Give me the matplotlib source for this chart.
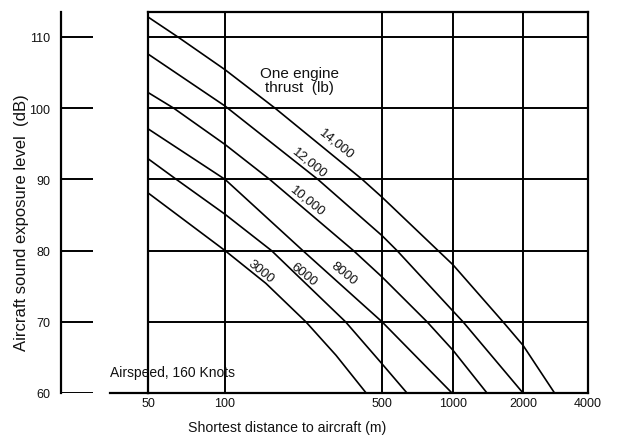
import numpy as np
import matplotlib
matplotlib.use("Agg")
import matplotlib.pyplot as plt
from matplotlib.ticker import FixedLocator, FixedFormatter, NullFormatter
from matplotlib.lines import Line2D

plt.rcParams['font.family'] = ['Liberation Sans', 'DejaVu Sans']

# ---------------- data ----------------
dist_3000 = [50, 100, 152, 229, 312, 425]
sel_3000 = [88.1, 80, 75.4, 70, 65.3, 60]

dist_6000 = [50, 64.5, 100, 161, 344, 500, 638]
sel_6000 = [92.9, 90, 85.1, 80, 70, 64.1, 60]

dist_8000 = [50, 100, 222, 500, 990]
sel_8000 = [97.1, 90, 80, 70, 60]

dist_10000 = [50, 63, 100, 158, 373, 500, 776, 1000, 1400]
sel_10000 = [102.2, 100, 94.9, 90, 80, 76.3, 70, 66, 60]

dist_12000 = [50, 100, 259, 500, 579, 1000, 1104, 2000]
sel_12000 = [107.6, 100.3, 90, 82.1, 80, 71.5, 70, 60]

dist_14000 = [50, 65.4, 100, 167, 408, 500, 864, 1000, 1640, 2000, 2800]
sel_14000 = [112.8, 110, 105.4, 100, 90, 87.5, 80, 78, 70, 66.7, 60]

thrust_labels = ['3000', '6000', '8000', '10,000', '12,000', '14,000']

x_ticks = [50, 100, 500, 1000, 2000, 4000]
x_tick_labels = ['50', '100', '500', '1000', '2000', '4000']
y_ticks = [60, 70, 80, 90, 100, 110]
y_tick_labels = ['60', '70', '80', '90', '100', '110']

# ---------------- axis scale (log axis as printed) ----------------
LT = np.log10(np.array(x_ticks, dtype=float))
P = np.array([0, 77, 234, 305, 375, 440], dtype=float)
s0 = (P[1] - P[0]) / (LT[1] - LT[0])
s1 = (P[-1] - P[-2]) / (LT[-1] - LT[-2])


def fwd(x):
    lx = np.log10(np.clip(np.asarray(x, dtype=float), 1e-6, None))
    y = np.interp(lx, LT, P)
    y = np.where(lx < LT[0], P[0] + (lx - LT[0]) * s0, y)
    y = np.where(lx > LT[-1], P[-1] + (lx - LT[-1]) * s1, y)
    return y


def inv(p):
    p = np.asarray(p, dtype=float)
    lx = np.interp(p, P, LT)
    lx = np.where(p < P[0], LT[0] + (p - P[0]) / s0, lx)
    lx = np.where(p > P[-1], LT[-1] + (p - P[-1]) / s1, lx)
    return 10 ** lx


W, H = 619, 439
fig = plt.figure(figsize=(W / 100, H / 100), dpi=100)
fig.patch.set_facecolor('white')

left_px, right_px, top_px, bot_px = 148, 588, 13, 394
ax = fig.add_axes([left_px / W, 1 - bot_px / H, (right_px - left_px) / W, (bot_px - top_px) / H])
ax.set_xscale('function', functions=(fwd, inv))
ax.set_xlim(50, 4000)
ax.set_ylim(60, 113.5)

ax.xaxis.set_major_locator(FixedLocator(x_ticks))
ax.xaxis.set_major_formatter(FixedFormatter(x_tick_labels))
ax.xaxis.set_minor_locator(FixedLocator([]))
ax.yaxis.set_major_locator(FixedLocator(y_ticks[1:]))
ax.yaxis.set_major_formatter(NullFormatter())
ax.tick_params(axis='both', length=0)
ax.tick_params(axis='x', labelsize=9, pad=3, colors='#111111')
ax.grid(True, color='black', lw=1.4)
for sp in ax.spines.values():
    sp.set_linewidth(1.6)
    sp.set_color('black')

series = [(dist_3000, sel_3000), (dist_6000, sel_6000), (dist_8000, sel_8000),
          (dist_10000, sel_10000), (dist_12000, sel_12000), (dist_14000, sel_14000)]
for xs, ys in series:
    ax.plot(xs, ys, color='black', lw=1.2, solid_capstyle='butt', solid_joinstyle='round',
            zorder=3)

# curve labels
label_pos = [(145, 77.1), (225, 76.7), (339, 76.9), (232, 87.0), (239, 92.4), (315, 95.0)]
for (lx, ly), txt in zip(label_pos, thrust_labels):
    ax.text(lx, ly, txt, rotation=-39, rotation_mode='anchor', ha='center', va='center',
            fontsize=9.5, color='#111111', zorder=4)

ax.text(0.345, 0.822, 'One engine\nthrust  (lb)', transform=ax.transAxes, ha='center',
        va='center', fontsize=11, linespacing=1.05, color='#111111')

# separate left scale
axl = fig.add_axes([61 / W, 1 - bot_px / H, (93 - 61) / W, (bot_px - top_px) / H])
axl.set_ylim(60, 113.5)
axl.set_xlim(0, 1)
for k in ['top', 'right', 'bottom']:
    axl.spines[k].set_visible(False)
axl.spines['left'].set_linewidth(1.6)
axl.set_xticks([])
axl.set_yticks(y_ticks)
axl.set_yticklabels(y_tick_labels)
axl.tick_params(axis='y', length=0, pad=8, labelsize=9, colors='#111111')
axl.hlines(y_ticks, 0, 1, color='black', lw=1.4)
axl.patch.set_alpha(0)

# bottom line extension left of main grid
fig.add_artist(Line2D([110 / W, left_px / W], [1 - bot_px / H, 1 - bot_px / H],
                      color='black', lw=1.6))

fig.text(110 / W, 1 - 373 / H, 'Airspeed, 160 Knots', fontsize=10, ha='left', va='center',
         color='#111111')
fig.text(287 / W, 1 - 428 / H, 'Shortest distance to aircraft (m)', fontsize=10.2,
         ha='center', va='center', color='#111111')
fig.text(22 / W, 1 - 223 / H, 'Aircraft sound exposure level  (dB)', fontsize=12,
         rotation=90, ha='center', va='center', color='#111111')

fig.savefig('out.png', dpi=100, facecolor='white')
